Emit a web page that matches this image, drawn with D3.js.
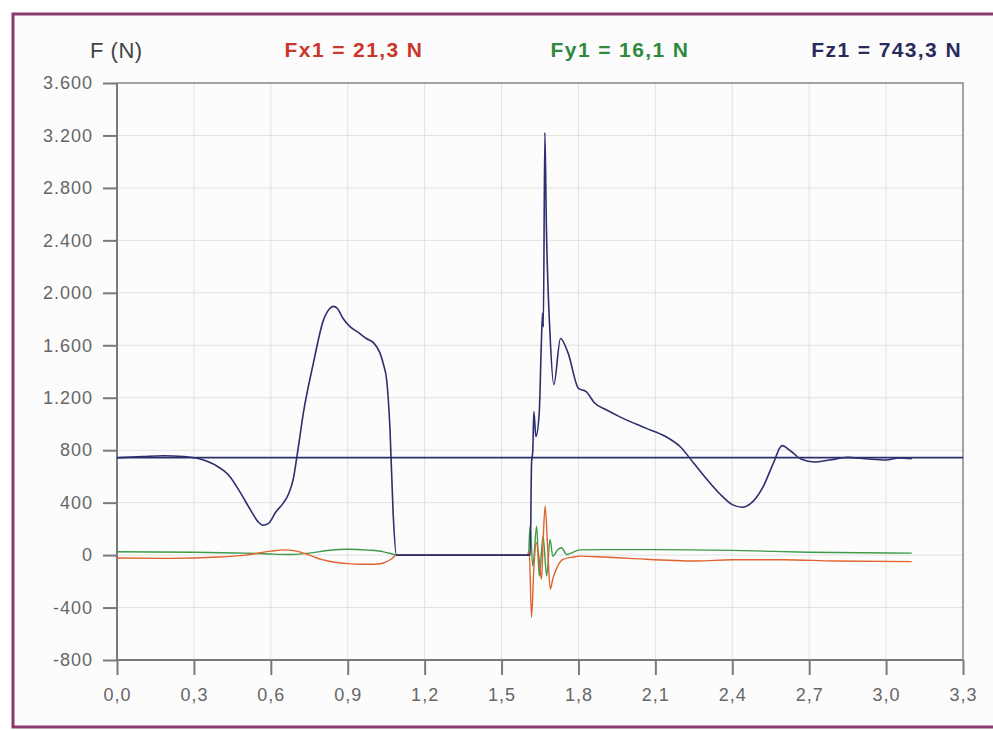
<!DOCTYPE html>
<html lang="es">
<head>
<meta charset="UTF-8">
<title>F (N)</title>
<script src="https://d3js.org/d3.v7.min.js"></script>
<style>
  html, body { margin: 0; padding: 0; background: #fff; }
  svg { display: block; font-family: "Liberation Sans", Arial, sans-serif; }
  .tick text { fill: #666; font-size: 18px; letter-spacing: 1px; }
  .axis path, .axis line { stroke: #7a7a7a; stroke-width: 2; }
  .grid line { stroke: #e2e2e2; stroke-width: 1; }
</style>
</head>
<body>
<div id="chart"></div>
<script>
// time (s) ticks and force ticks
const xTicks = [0, 0.3, 0.6, 0.9, 1.2, 1.5, 1.8, 2.1, 2.4, 2.7, 3.0, 3.3];
const yTicks = [-800, -400, 0, 400, 800, 1200, 1600, 2000, 2400, 2800, 3200, 3600];

// mean values shown in the header
const means = [
  { label: "Fx1 = 21,3 N", color: "#c8372b" },
  { label: "Fy1 = 16,1 N", color: "#2f8a3c" },
  { label: "Fz1 = 743,3 N", color: "#2a2b5c" }
];
const fzMean = 743.3;

// Fz (vertical force), [t, N]
const fz = [
  [0, 742], [0.1, 752], [0.18, 758], [0.26, 752], [0.32, 735], [0.38, 690], [0.44, 600],
  [0.48, 480], [0.52, 347], [0.55, 255], [0.569, 228], [0.59, 240], [0.62, 330], [0.65, 400],
  [0.67, 470], [0.687, 575], [0.707, 820], [0.727, 1084], [0.766, 1464], [0.805, 1790],
  [0.83, 1880], [0.844, 1897], [0.86, 1880], [0.88, 1810], [0.91, 1740], [0.94, 1700],
  [0.974, 1650], [1.0, 1620], [1.026, 1540], [1.04, 1450], [1.052, 1335], [1.065, 955],
  [1.077, 324], [1.09, 0], [1.612, 0], [1.617, 700], [1.622, 800], [1.626, 1094],
  [1.634, 904], [1.647, 1084], [1.655, 1600], [1.66, 1844], [1.663, 1740], [1.669, 3222],
  [1.675, 2500], [1.689, 1690], [1.704, 1300], [1.73, 1652], [1.76, 1538], [1.80, 1272],
  [1.83, 1246], [1.864, 1158], [1.91, 1107], [1.96, 1056], [2.06, 970], [2.14, 904],
  [2.196, 828], [2.25, 700], [2.3, 580], [2.35, 470], [2.4, 385], [2.44, 365], [2.47, 390],
  [2.52, 520], [2.56, 700], [2.594, 835], [2.63, 790], [2.67, 730], [2.72, 710], [2.78, 725],
  [2.85, 745], [2.92, 735], [3.0, 725], [3.05, 740], [3.1, 735]
];

// Fx (antero-posterior), [t, N]
const fx = [
  [0, -22], [0.2, -25], [0.4, -15], [0.5, 0], [0.6, 30], [0.65, 40], [0.7, 30], [0.75, 0],
  [0.8, -35], [0.85, -55], [0.9, -65], [0.95, -70], [1.0, -70], [1.04, -60], [1.07, -30],
  [1.09, 0], [1.6, 0], [1.608, 30], [1.617, -476], [1.626, -100], [1.635, 96], [1.645, 0],
  [1.656, -185], [1.662, 100], [1.67, 372], [1.68, 50], [1.69, -260], [1.70, -180],
  [1.72, -80], [1.74, -33], [1.78, -15], [1.806, -8], [1.9, -15], [2.0, -25], [2.26, -45],
  [2.4, -35], [2.6, -35], [2.8, -45], [3.1, -50]
];

// Fy (medio-lateral), [t, N]
const fy = [
  [0, 25], [0.3, 22], [0.5, 15], [0.6, 8], [0.68, 5], [0.75, 15], [0.82, 35], [0.9, 45],
  [0.98, 38], [1.04, 25], [1.08, 5], [1.09, 0], [1.605, 0], [1.611, 220], [1.622, -84],
  [1.637, 220], [1.647, -160], [1.662, 145], [1.676, -160], [1.689, 120], [1.70, -8],
  [1.72, 43], [1.734, 56], [1.754, 5], [1.806, 40], [1.9, 42], [2.1, 42], [2.4, 36],
  [2.7, 22], [3.1, 15]
];

const W = 993, H = 730;
const margin = { top: 83, right: 30, bottom: 70, left: 117 };
const iw = 963 - margin.left, ih = 660 - margin.top;

const svg = d3.select("#chart").append("svg").attr("width", W).attr("height", H);

// scanned frame
svg.append("rect").attr("x", 13).attr("y", 14).attr("width", 1000).attr("height", 713)
  .attr("fill", "#fdfcfd").attr("stroke", "#8c3a6c").attr("stroke-width", 3);

const x = d3.scaleLinear().domain([0, 3.3]).range([0, iw]);
const y = d3.scaleLinear().domain([-800, 3600]).range([ih, 0]);

const g = svg.append("g").attr("transform", `translate(${margin.left},${margin.top})`);

// grid
g.append("g").attr("class", "grid").selectAll("line").data(xTicks.slice(1, -1)).join("line")
  .attr("x1", d => x(d)).attr("x2", d => x(d)).attr("y1", 0).attr("y2", ih);
g.append("g").attr("class", "grid").selectAll("line").data(yTicks.slice(1, -1)).join("line")
  .attr("x1", 0).attr("x2", iw).attr("y1", d => y(d)).attr("y2", d => y(d));

// top and right frame of the plot
g.append("path").attr("d", `M0,0H${iw}V${ih}`).attr("fill", "none")
  .attr("stroke", "#858585").attr("stroke-width", 1.5);

const fmtX = d => d3.format(".1f")(d).replace(".", ",");
const fmtY = d => d3.format(",")(d).replace(/,/g, ".").replace("\u2212", "-");

g.append("g").attr("class", "axis").attr("transform", `translate(0,${ih})`)
  .call(d3.axisBottom(x).tickValues(xTicks).tickFormat(fmtX).tickSize(15).tickPadding(13).tickSizeOuter(0))
  .call(a => a.select(".domain").attr("d", `M0,0H${iw}`));
g.append("g").attr("class", "axis")
  .call(d3.axisLeft(y).tickValues(yTicks).tickFormat(fmtY).tickSize(14).tickPadding(10).tickSizeOuter(0))
  .call(a => a.select(".domain").attr("d", `M0,0V${ih}`));

// header texts
svg.append("text").attr("x", 90).attr("y", 58).attr("fill", "#444")
  .attr("font-size", 22).attr("letter-spacing", 0.5).text("F (N)");
const pos = [{ x: 354, a: "middle" }, { x: 620, a: "middle" }, { x: 962, a: "end" }];
svg.selectAll(".mean").data(means).join("text").attr("class", "mean")
  .attr("x", (d, i) => pos[i].x).attr("y", 57).attr("text-anchor", (d, i) => pos[i].a)
  .attr("fill", d => d.color).attr("font-size", 21).attr("font-weight", "bold")
  .attr("letter-spacing", 1.4).text(d => d.label);

// traces
const line = d3.line().x(d => x(d[0])).y(d => y(d[1])).curve(d3.curveMonotoneX);

g.append("line").attr("x1", 0).attr("x2", iw).attr("y1", y(fzMean)).attr("y2", y(fzMean))
  .attr("stroke", "#2d2f6e").attr("stroke-width", 1.6);

g.append("path").datum(fy).attr("d", line).attr("fill", "none")
  .attr("stroke", "#3c9a48").attr("stroke-width", 1.4);
g.append("path").datum(fx).attr("d", line).attr("fill", "none")
  .attr("stroke", "#e0622e").attr("stroke-width", 1.4);
g.append("path").datum(fz).attr("d", line).attr("fill", "none")
  .attr("stroke", "#2d2f6e").attr("stroke-width", 1.6);
</script>
</body>
</html>
